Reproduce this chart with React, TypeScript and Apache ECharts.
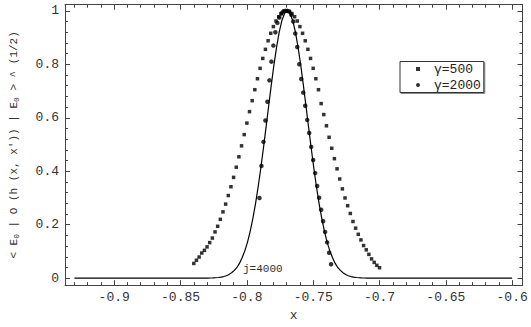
import React, { useEffect, useRef } from "react";
import * as echarts from "echarts";

// gamma = 500 (squares)
const squareX = [
  -0.84, -0.838, -0.836, -0.834, -0.832, -0.83, -0.828, -0.826, -0.824, -0.822,
  -0.82, -0.818, -0.816, -0.814, -0.812, -0.81, -0.808, -0.806, -0.804, -0.802,
  -0.8, -0.798, -0.796, -0.794, -0.792, -0.79, -0.788, -0.786, -0.784, -0.782,
  -0.78, -0.778, -0.776, -0.774, -0.772, -0.77, -0.768, -0.766, -0.764, -0.762,
  -0.76, -0.758, -0.756, -0.754, -0.752, -0.75, -0.748, -0.746, -0.744, -0.742,
  -0.74, -0.738, -0.736, -0.734, -0.732, -0.73, -0.728, -0.726, -0.724, -0.722,
  -0.72, -0.718, -0.716, -0.714, -0.712, -0.71, -0.708, -0.706, -0.704, -0.702,
  -0.7,
];
const squareY = [
  0.055, 0.067, 0.079, 0.094, 0.104, 0.117, 0.133, 0.15, 0.173, 0.194,
  0.22, 0.248, 0.277, 0.309, 0.342, 0.377, 0.415, 0.454, 0.495, 0.537,
  0.58, 0.623, 0.664, 0.705, 0.746, 0.785, 0.822, 0.856, 0.888, 0.916,
  0.941, 0.962, 0.978, 0.99, 0.998, 1.0, 0.998, 0.99, 0.978, 0.962,
  0.941, 0.916, 0.888, 0.856, 0.822, 0.785, 0.746, 0.705, 0.653, 0.612,
  0.57, 0.527, 0.486, 0.447, 0.409, 0.371, 0.334, 0.3, 0.271, 0.242,
  0.212, 0.187, 0.164, 0.143, 0.122, 0.106, 0.089, 0.072, 0.059, 0.048,
  0.039,
];

// gamma = 2000 (circles)
const circleX = [
  -0.7905, -0.789, -0.7875, -0.786, -0.7845, -0.783, -0.7815, -0.78, -0.7785, -0.777,
  -0.7755, -0.774, -0.7725, -0.771, -0.7695, -0.768, -0.7665, -0.765, -0.7635, -0.762,
  -0.7605, -0.759, -0.7575, -0.756, -0.7545, -0.753, -0.7515, -0.75, -0.7485, -0.747,
  -0.7455, -0.744, -0.7425, -0.741, -0.7395, -0.738, -0.7365,
];
const circleY = [
  0.3, 0.42, 0.51, 0.59, 0.66, 0.74, 0.81, 0.87, 0.92, 0.955,
  0.975, 0.99, 0.998, 1.0, 1.0, 0.997, 0.985, 0.96, 0.915, 0.865,
  0.8, 0.745, 0.694, 0.645, 0.592, 0.543, 0.491, 0.442, 0.393, 0.345,
  0.301, 0.256, 0.213, 0.173, 0.134, 0.095, 0.052,
];

// j = 4000 (solid curve)
const lineX = [
  -0.93,
  -0.8295, -0.8275, -0.8255, -0.8235, -0.8215, -0.8195, -0.8175, -0.8155, -0.8135, -0.8115,
  -0.8095, -0.8075, -0.8055, -0.8035, -0.8015, -0.7995, -0.7975, -0.7955, -0.7935, -0.7915,
  -0.7895, -0.7875, -0.7855, -0.7835, -0.7815, -0.7795, -0.7775, -0.7755, -0.7735, -0.7715,
  -0.7695,
  -0.7675, -0.7655, -0.7635, -0.7615, -0.7595, -0.7575, -0.7555, -0.7535, -0.7515, -0.7495,
  -0.7475, -0.7455, -0.7435, -0.7415, -0.7395, -0.7375, -0.7355, -0.7335, -0.7315, -0.7295,
  -0.7275, -0.7255, -0.7235, -0.7215, -0.7195, -0.7175, -0.7155, -0.7135, -0.7115, -0.7095,
  -0.6,
];
const lineY = [
  0,
  0.0003, 0.0006, 0.001, 0.0015, 0.0024, 0.0039, 0.006, 0.009, 0.0135, 0.02,
  0.029, 0.04, 0.056, 0.077, 0.103, 0.135, 0.175, 0.223, 0.278, 0.341,
  0.411, 0.487, 0.566, 0.647, 0.726, 0.801, 0.867, 0.923, 0.965, 0.991,
  1.0,
  0.991, 0.965, 0.923, 0.867, 0.801, 0.726, 0.647, 0.566, 0.487, 0.411,
  0.341, 0.278, 0.223, 0.175, 0.135, 0.103, 0.077, 0.056, 0.04, 0.029,
  0.02, 0.0135, 0.009, 0.006, 0.0039, 0.0024, 0.0015, 0.001, 0.0006, 0.0003,
  0,
];

const seriesNames = ["γ=500", "γ=2000"];
const curveLabel = "j=4000";
const xName = "x";
const yName = "< E{s|0} | O (h (x, x')) | E{s|0} > ^ (1/2)";

const MONO = '"Liberation Mono", "DejaVu Sans Mono", monospace';
const AX = "#444";

export default function App() {
  const ref = useRef<HTMLDivElement>(null);
  useEffect(() => {
    const chart = echarts.init(ref.current!, null, { renderer: "svg" });
    const common = {
      type: "value" as const,
      axisLine: { show: true, onZero: false, lineStyle: { color: AX, width: 1 } },
      axisTick: { show: true, inside: true, length: 5, lineStyle: { color: AX } },
      minorTick: { show: true, splitNumber: 5, length: 3, lineStyle: { color: AX } },
      splitLine: { show: false },
    };
    const xr = { min: -0.9371, max: -0.5922, splitNumber: 7 };
    const yr = { min: -0.026, max: 1.023, splitNumber: 5 };
    chart.setOption({
      animation: false,
      backgroundColor: "#fff",
      grid: { left: 58, right: 8.5, top: 4.7, bottom: 34.3, containLabel: false },
      xAxis: [
        {
          ...common,
          ...xr,
          position: "bottom",
          name: xName,
          nameLocation: "middle",
          nameGap: 19,
          nameTextStyle: { fontFamily: MONO, fontSize: 13, color: "#333" },
          axisLabel: {
            fontFamily: MONO,
            fontSize: 13,
            color: "#333",
            margin: 6,
            showMinLabel: false,
            showMaxLabel: false,
          },
        },
        { ...common, ...xr, position: "top", axisLabel: { show: false } },
      ],
      yAxis: [
        {
          ...common,
          ...yr,
          position: "left",
          name: yName,
          nameLocation: "middle",
          nameRotate: 90,
          nameGap: 45,
          nameTextStyle: {
            fontFamily: MONO,
            fontSize: 11,
            color: "#333",
            rich: {
              s: { fontFamily: MONO, fontSize: 8, color: "#333", padding: [5, 0, 0, 0] },
            },
          },
          axisLabel: {
            fontFamily: MONO,
            fontSize: 13,
            color: "#333",
            margin: 6,
            showMinLabel: false,
            showMaxLabel: false,
          },
        },
        { ...common, ...yr, position: "right", axisLabel: { show: false } },
      ],
      legend: {
        orient: "vertical",
        left: 400,
        top: 61.5,
        data: [
          { name: seriesNames[0], icon: "rect" },
          { name: seriesNames[1], icon: "circle" },
        ],
        itemWidth: 4,
        itemHeight: 4,
        itemGap: 3,
        padding: [1, 3, 1, 16],
        borderColor: "#333",
        borderWidth: 1,
        backgroundColor: "#fff",
        shadowColor: "rgba(0,0,0,0.45)",
        shadowOffsetX: 1,
        shadowOffsetY: 1,
        shadowBlur: 0,
        selectedMode: false,
        textStyle: {
          fontFamily: MONO,
          fontSize: 13,
          color: "#222",
          lineHeight: 11,
          padding: [0, 0, 0, 9],
        },
      },
      graphic: [
        {
          type: "text",
          left: 243,
          top: 263,
          style: { text: curveLabel, font: `11px ${MONO}`, fill: "#333" },
        },
      ],
      series: [
        {
          type: "line",
          data: lineX.map((x, i) => [x, lineY[i]]),
          showSymbol: false,
          symbol: "none",
          lineStyle: { color: "#000", width: 1.2 },
          z: 1,
        },
        {
          name: seriesNames[0],
          type: "scatter",
          symbol: "rect",
          symbolSize: 3.5,
          data: squareX.map((x, i) => [x, squareY[i]]),
          itemStyle: { color: "#000" },
          z: 2,
        },
        {
          name: seriesNames[1],
          type: "scatter",
          symbol: "circle",
          symbolSize: 4.5,
          data: circleX.map((x, i) => [x, circleY[i]]),
          itemStyle: { color: "#000" },
          z: 3,
        },
      ],
    });
    return () => chart.dispose();
  }, []);
  return (
    <div
      ref={ref}
      style={{ position: "fixed", left: 0, top: 0, width: 531, height: 327 }}
    />
  );
}
